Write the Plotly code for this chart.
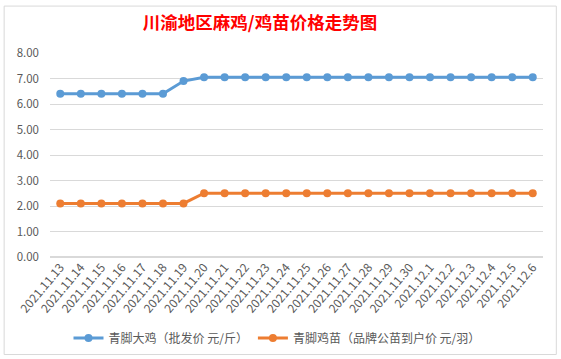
import plotly.graph_objects as go

dates = ["2021.11.13", "2021.11.14", "2021.11.15", "2021.11.16", "2021.11.17", "2021.11.18",
         "2021.11.19", "2021.11.20", "2021.11.21", "2021.11.22", "2021.11.23", "2021.11.24",
         "2021.11.25", "2021.11.26", "2021.11.27", "2021.11.28", "2021.11.29", "2021.11.30",
         "2021.12.1", "2021.12.2", "2021.12.3", "2021.12.4", "2021.12.5", "2021.12.6"]
chicken = [6.4, 6.4, 6.4, 6.4, 6.4, 6.4, 6.9, 7.05, 7.05, 7.05, 7.05, 7.05,
           7.05, 7.05, 7.05, 7.05, 7.05, 7.05, 7.05, 7.05, 7.05, 7.05, 7.05, 7.05]
chick = [2.1, 2.1, 2.1, 2.1, 2.1, 2.1, 2.1, 2.5, 2.5, 2.5, 2.5, 2.5,
         2.5, 2.5, 2.5, 2.5, 2.5, 2.5, 2.5, 2.5, 2.5, 2.5, 2.5, 2.5]
series_names = ["青脚大鸡（批发价 元/斤）", "青脚鸡苗（品牌公苗到户价 元/羽）"]
y_ticks = [0, 1, 2, 3, 4, 5, 6, 7, 8]
title = "川渝地区麻鸡/鸡苗价格走势图"

font_family = "Noto Sans CJK SC, Noto Sans, sans-serif"
fig = go.Figure()
fig.add_trace(go.Scatter(x=dates, y=chicken, name=series_names[0], mode="lines+markers",
                         line=dict(color="#5b9bd5", width=3),
                         marker=dict(size=8, color="#5b9bd5")))
fig.add_trace(go.Scatter(x=dates, y=chick, name=series_names[1], mode="lines+markers",
                         line=dict(color="#ed7d31", width=3),
                         marker=dict(size=8, color="#ed7d31")))

fig.update_layout(
    width=561, height=359,
    margin=dict(l=50, r=18, t=53, b=102),
    paper_bgcolor="white", plot_bgcolor="white",
    font=dict(family=font_family, color="#595959", size=11),
    title=dict(text="<b>" + title + "</b>", x=260 / 561, xanchor="center", y=0.937, yanchor="middle",
               font=dict(size=17.5, color="#ff0000", family=font_family)),
    showlegend=True,
    legend=dict(orientation="h", xref="container", yref="container",
                x=277 / 561, xanchor="center", y=1 - 338 / 359, yanchor="middle",
                font=dict(size=12, color="#595959"), itemwidth=30, tracegroupgap=0),
    xaxis=dict(type="category", range=[-0.5, len(dates) - 0.5], tickangle=-50,
               showgrid=False, showline=False, ticks="", automargin=False,
               tickfont=dict(size=12, color="#595959")),
    yaxis=dict(range=[0, 8], tickvals=y_ticks, tickformat=".2f", showgrid=True,
               gridcolor="#d9d9d9", gridwidth=1, zeroline=True, zerolinecolor="#d9d9d9",
               showline=False, ticks="", ticklabelstandoff=10, automargin=False,
               tickfont=dict(size=11.5, color="#595959")),
)
fig.add_shape(type="rect", xref="paper", yref="paper", x0=-0.093, x1=1.027, y0=-0.478, y1=1.23,
              line=dict(color="#d9d9d9", width=1), layer="below")
fig.write_html("out.html", config={"displayModeBar": False},
               post_script="document.body.style.margin='0';document.body.style.overflow='hidden';")
